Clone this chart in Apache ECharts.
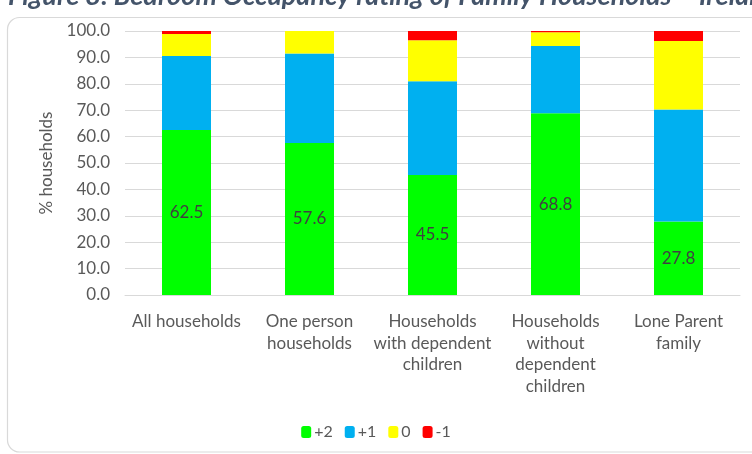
<!DOCTYPE html>
<html><head><meta charset="utf-8">
<script src="https://cdn.jsdelivr.net/npm/echarts@6/dist/echarts.min.js"></script>
<style>html,body{margin:0;padding:0;background:#fff}#c{width:752px;height:454px}</style>
</head><body><div id="c"></div>
<script>
var categories = ['All households', 'One person\nhouseholds', 'Households\nwith dependent\nchildren', 'Households\nwithout\ndependent\nchildren', 'Lone Parent\nfamily'];
var plus2 = [62.5, 57.6, 45.5, 68.8, 27.8];
var plus1 = [28.0, 33.9, 35.5, 25.5, 42.5];
var zero = [8.4, 8.5, 15.5, 5.2, 25.9];
var minus1 = [1.1, 0.0, 3.5, 0.5, 3.8];
var yTicks = [0, 10, 20, 30, 40, 50, 60, 70, 80, 90, 100];
var titleText = 'Figure 8: Bedroom Occupancy rating of Family Households \u2013 Ireland';

var font = 'Lato, "Open Sans", sans-serif';
var chart = echarts.init(document.getElementById('c'));
function ser(name, data, color, label) {
  return {
    name: name, type: 'bar', stack: 'a', data: data, barWidth: 49,
    itemStyle: { color: color },
    label: label ? { show: true, position: 'inside', color: '#404040', fontSize: 17, fontFamily: font,
      formatter: function (p) { return p.value.toFixed(1); } } : { show: false }
  };
}
chart.setOption({
  animation: false,
  graphic: [
    { type: 'rect', shape: { x: 7.5, y: 17.5, width: 760, height: 434.5, r: 12 },
      style: { fill: 'none', stroke: '#d9d9d9', lineWidth: 1.2 }, z: -1 },
    { type: 'text', x: 8, y: 10,
      style: { text: titleText, font: 'italic bold 27px ' + font, fill: '#44546a', verticalAlign: 'bottom', textVerticalAlign: 'bottom' } }
  ],
  grid: { left: 125, right: 12, top: 31, bottom: 159 },
  legend: {
    bottom: 9, left: 'center', itemWidth: 10, itemHeight: 12, itemGap: 12,
    textStyle: { color: '#595959', fontSize: 16, fontFamily: font, padding: [0, 0, 0, -2] },
    data: ['+2', '+1', '0', '-1']
  },
  xAxis: {
    type: 'category', data: categories,
    axisLine: { lineStyle: { color: '#d9d9d9' } }, axisTick: { show: false },
    axisLabel: { color: '#595959', fontSize: 17, fontFamily: font, lineHeight: 21.5, margin: 16, interval: 0 }
  },
  yAxis: {
    type: 'value', min: yTicks[0], max: yTicks[yTicks.length - 1], interval: 10,
    name: '% households', nameLocation: 'middle', nameGap: 70, nameRotate: 90,
    nameTextStyle: { color: '#595959', fontSize: 17, fontFamily: font },
    axisLabel: { color: '#595959', fontSize: 17, fontFamily: font, margin: 15,
      formatter: function (v) { return v.toFixed(1); } },
    splitLine: { lineStyle: { color: '#d9d9d9' } },
    axisLine: { show: false }, axisTick: { show: false }
  },
  series: [
    ser('+2', plus2, '#00ff00', true),
    ser('+1', plus1, '#00b0f0', false),
    ser('0', zero, '#ffff00', false),
    ser('-1', minus1, '#ff0000', false)
  ]
});
</script></body></html>
